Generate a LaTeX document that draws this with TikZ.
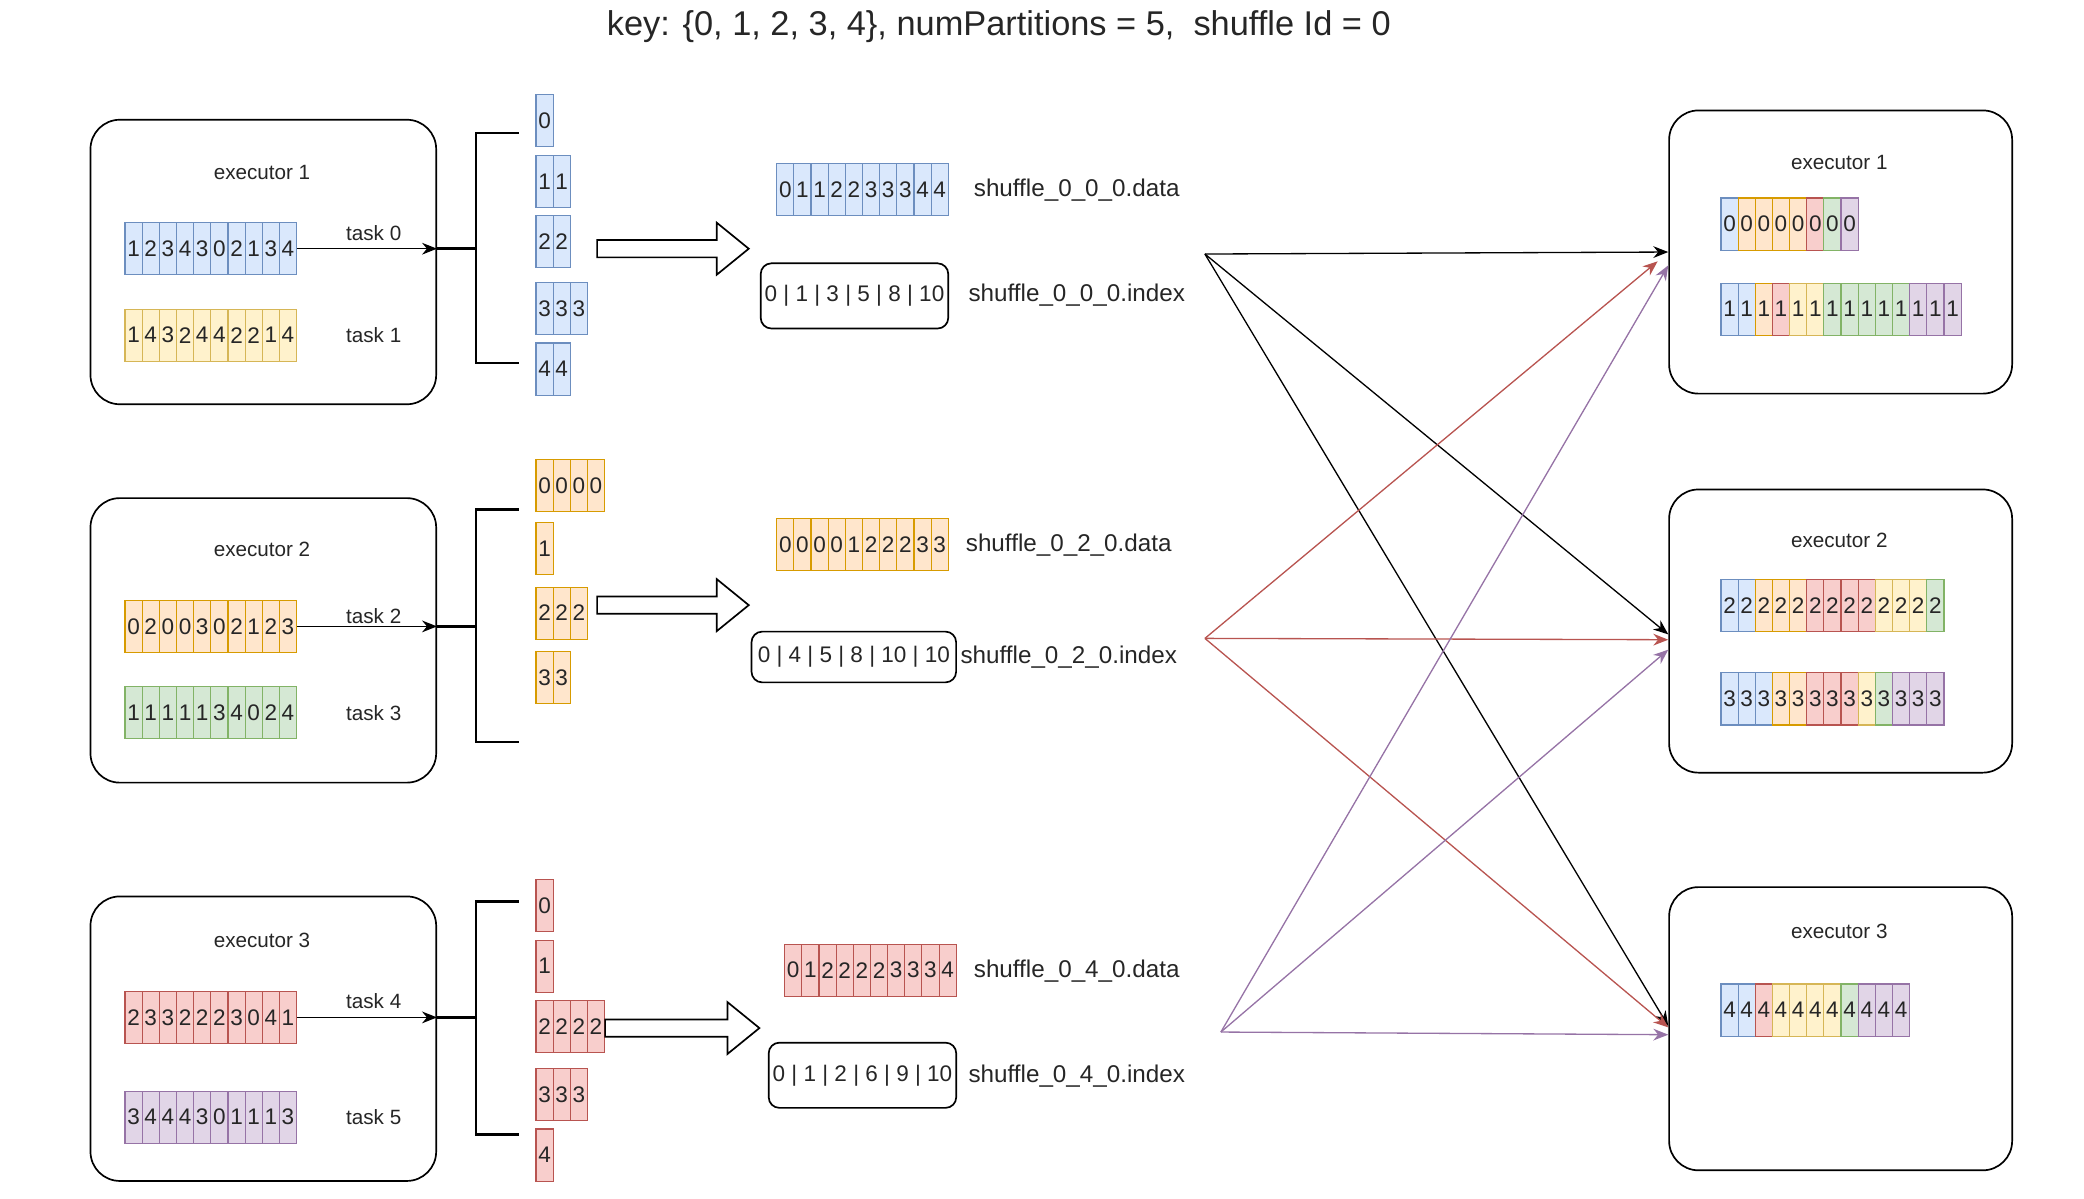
\documentclass[tikz,border=0pt]{standalone}
\usepackage{fontspec}
\setmainfont{Liberation Sans}
\usetikzlibrary{arrows.meta,calc}

\definecolor{Fbl}{HTML}{DAE8FC} \definecolor{Dbl}{HTML}{6C8EBF}
\definecolor{Fye}{HTML}{FFF2CC} \definecolor{Dye}{HTML}{D6B656}
\definecolor{For}{HTML}{FFE6CC} \definecolor{Dor}{HTML}{D79B00}
\definecolor{Fgr}{HTML}{D5E8D4} \definecolor{Dgr}{HTML}{82B366}
\definecolor{Frd}{HTML}{F8CECC} \definecolor{Drd}{HTML}{B85450}
\definecolor{Fpu}{HTML}{E1D5E7} \definecolor{Dpu}{HTML}{9673A6}

% row of cells in one colour: name, left end, colour, digits
\newcommand{\cellrow}[4]{%
  \foreach \d [count=\i] in {#4}
    \node [cell=#3] (#1-\i) at ($#2+(\i*12.9-6.45,0)$) {\d};
}
% row of one key, each cell with its own colour: name, left end, key, colours
\newcommand{\keyrow}[4]{%
  \foreach \c [count=\i] in {#4}
    \node [cell=\c] (#1-\i) at ($#2+(\i*12.9-6.45,0)$) {#3};
}
% hollow block arrow: tail centre, shaft length
\newcommand{\bigarrow}[2]{%
  \draw [hollow] #1 ++(0,-6.5) -- ++(#2,0) -- ++(0,-13) -- ++(24,19.5)
    -- ++(-24,19.5) -- ++(0,-13) -- ++(-#2,0) -- cycle;
}

\begin{document}
\begin{tikzpicture}[x=0.2489mm, y=-0.2489mm]
\tikzset{ >={Stealth[length=2.8mm,width=2.2mm]},
  cell/.style={draw=D#1, fill=F#1, line width=0.6pt, inner sep=0pt,
    minimum width=3.21mm, minimum height=9.75mm, text=black!85,
    font=\fontsize{12}{12}\selectfont},
  exbox/.style={draw, line width=0.9pt, rounded corners=5.5mm,
    minimum width=64.7mm, minimum height=53.25mm},
  idx/.style={draw, line width=0.9pt, rounded corners=2mm, inner sep=0pt,
    text=black!85, font=\fontsize{12}{12}\selectfont},
  lbl/.style={text=black!85, font=\fontsize{11}{11}\selectfont},
  fname/.style={anchor=west, inner sep=0pt, text=black!85,
    font=\fontsize{12.9}{13}\selectfont},
  hollow/.style={draw, fill=white, line width=0.9pt},
  brk/.style={line width=1.4pt},
  link/.style={->, line width=0.7pt},
}

\useasboundingbox (0,0) rectangle (1567,901);

\node [text=black!85, font=\fontsize{18.3}{20}\selectfont] (title) at (751,20)
  {key: \{0, 1, 2, 3, 4\}, numPartitions = 5,\ \ shuffle Id = 0};

% map side
\node [exbox] (E1) at (198,197) {};
\node [exbox] (E2) at (198,481.5) {};
\node [exbox] (E3) at (198,781) {};
\node [lbl] (E1l) at (197,130) {executor 1};
\node [lbl] (E2l) at (197,413) {executor 2};
\node [lbl] (E3l) at (197,707) {executor 3};

\cellrow{T0}{(94,187)}{bl}{1,2,3,4,3,0,2,1,3,4}
\cellrow{T1}{(94,252)}{ye}{1,4,3,2,4,4,2,2,1,4}
\cellrow{T2}{(94,471)}{or}{0,2,0,0,3,0,2,1,2,3}
\cellrow{T3}{(94,536)}{gr}{1,1,1,1,1,3,4,0,2,4}
\cellrow{T4}{(94,765)}{rd}{2,3,3,2,2,2,3,0,4,1}
\cellrow{T5}{(94,840)}{pu}{3,4,4,4,3,0,1,1,1,3}

\node [lbl] (L0) at (281,175) {task 0};
\node [lbl] (L1) at (281,252) {task 1};
\node [lbl] (L2) at (281,463) {task 2};
\node [lbl] (L3) at (281,536) {task 3};
\node [lbl] (L4) at (281,753) {task 4};
\node [lbl] (L5) at (281,840) {task 5};

\draw [link] (T0-10.east) -- (T0-10.east -| E1.east);
\draw [link] (T2-10.east) -- (T2-10.east -| E2.east);
\draw [link] (T4-10.east) -- (T4-10.east -| E3.east);

% brackets
\draw [brk] (T0-10.east -| E1.east) -- (358,187);
\draw [brk] (390,100) -- (358,100) -- (358,273) -- (390,273);
\draw [brk] (T2-10.east -| E2.east) -- (358,471);
\draw [brk] (390,383) -- (358,383) -- (358,558) -- (390,558);
\draw [brk] (T4-10.east -| E3.east) -- (358,765);
\draw [brk] (390,678) -- (358,678) -- (358,853) -- (390,853);

% partitions
\cellrow{P00}{(403,90.5)}{bl}{0}
\cellrow{P01}{(403,136.5)}{bl}{1,1}
\cellrow{P02}{(403,181.5)}{bl}{2,2}
\cellrow{P03}{(403,232)}{bl}{3,3,3}
\cellrow{P04}{(403,277.5)}{bl}{4,4}
\cellrow{P20}{(403,365)}{or}{0,0,0,0}
\cellrow{P21}{(403,412.5)}{or}{1}
\cellrow{P22}{(403,461)}{or}{2,2,2}
\cellrow{P23}{(403,509.5)}{or}{3,3}
\cellrow{P40}{(403,681)}{rd}{0}
\cellrow{P41}{(403,726.5)}{rd}{1}
\cellrow{P42}{(403,772)}{rd}{2,2,2,2}
\cellrow{P43}{(403,823)}{rd}{3,3,3}
\cellrow{P44}{(403,868.5)}{rd}{4}

\bigarrow{(449,187)}{90}
\bigarrow{(449,455)}{90}
\bigarrow{(455,773)}{92}

% shuffle files
\cellrow{D0}{(584,142.5)}{bl}{0,1,1,2,2,3,3,3,4,4}
\cellrow{D2}{(584,409.5)}{or}{0,0,0,0,1,2,2,2,3,3}
\cellrow{D4}{(590,729.5)}{rd}{0,1,2,2,2,2,3,3,3,4}

\node [idx, minimum width=35.1mm, minimum height=12.2mm] (I0) at (642.5,222.5) {0 | 1 | 3 | 5 | 8 | 10};
\node [idx, minimum width=38.3mm, minimum height=9.5mm] (I2) at (642,494) {0 | 4 | 5 | 8 | 10 | 10};
\node [idx, minimum width=35.1mm, minimum height=12.2mm] (I4) at (648.5,808.5) {0 | 1 | 2 | 6 | 9 | 10};

\node [fname] (F0d) at (732,143) {shuffle\_0\_0\_0.data};
\node [fname] (F0i) at (728,222) {shuffle\_0\_0\_0.index};
\node [fname] (F2d) at (726,410) {shuffle\_0\_2\_0.data};
\node [fname] (F2i) at (722,494) {shuffle\_0\_2\_0.index};
\node [fname] (F4d) at (732,730) {shuffle\_0\_4\_0.data};
\node [fname] (F4i) at (728,809) {shuffle\_0\_4\_0.index};

% reduce side
\node [exbox, minimum width=64.2mm, minimum height=53mm] (R1) at (1384,189.5) {};
\node [exbox, minimum width=64.2mm, minimum height=53mm] (R2) at (1384,474.5) {};
\node [exbox, minimum width=64.2mm, minimum height=53mm] (R3) at (1384,773.5) {};
\node [lbl] (R1l) at (1383,122) {executor 1};
\node [lbl] (R2l) at (1383,406) {executor 2};
\node [lbl] (R3l) at (1383,700) {executor 3};

\keyrow{K0}{(1294,168.5)}{0}{bl,or,or,or,or,rd,gr,pu}
\keyrow{K1}{(1294,232.5)}{1}{bl,bl,or,rd,ye,ye,gr,gr,gr,gr,gr,pu,pu,pu}
\keyrow{K2}{(1294,455)}{2}{bl,bl,or,or,or,rd,rd,rd,rd,ye,ye,ye,gr}
\keyrow{K3}{(1294,525.5)}{3}{bl,bl,bl,or,or,rd,rd,rd,ye,gr,pu,pu,pu}
\keyrow{K4}{(1294,759.5)}{4}{bl,bl,rd,ye,ye,ye,ye,gr,pu,pu,pu}

% fetch
\coordinate (S0) at (906,191);
\coordinate (S2) at (906,480);
\coordinate (S4) at (918,776);

\draw [link] (S0) -- ($(R1.west)+(0,0)$);
\draw [link] (S0) -- ($(R2.west)+(0,2.5)$);
\draw [link] (S0) -- ($(R3.west)+(0,-2)$);
\draw [link, Drd] (S2) -- ($(R1.west)+(-8,7)$);
\draw [link, Drd] (S2) -- ($(R2.west)+(0,6.5)$);
\draw [link, Drd] (S2) -- ($(R3.west)+(0,-1)$);
\draw [link, Dpu] (S4) -- ($(R1.west)+(0,10)$);
\draw [link, Dpu] (S4) -- ($(R2.west)+(0,14)$);
\draw [link, Dpu] (S4) -- ($(R3.west)+(0,4.5)$);

\end{tikzpicture}
\end{document}
